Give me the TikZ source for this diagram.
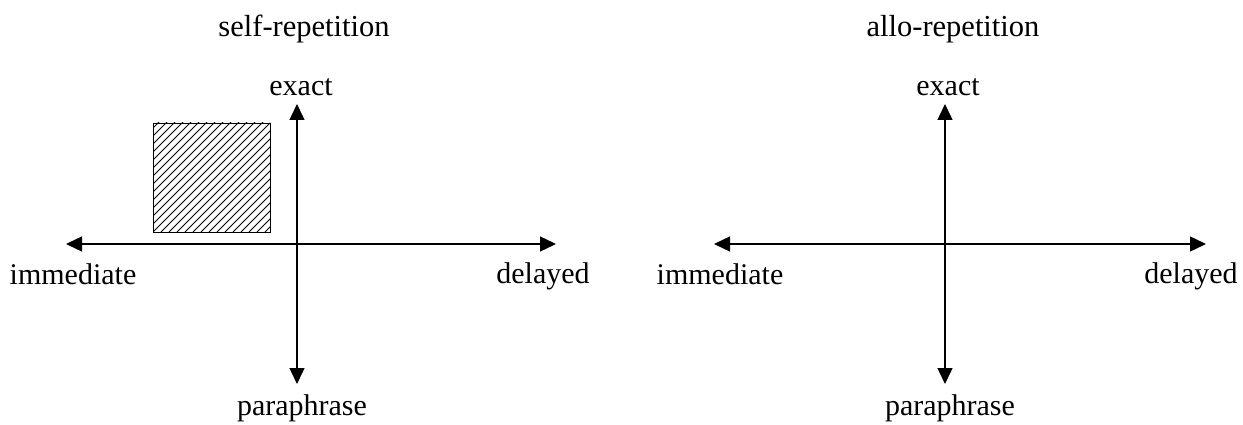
\documentclass[tikz,border=0pt]{standalone}
\usepackage{fontspec}
\setmainfont{Liberation Serif}
\usetikzlibrary{arrows.meta}
\begin{document}
\begin{tikzpicture}[x=1pt,y=-1pt,
  axis/.style={line width=1.4pt,{Triangle[length=16pt,width=15pt]}-{Triangle[length=16pt,width=15pt]}},
  lbl/.style={font=\fontsize{30}{34}\selectfont,inner sep=0pt,anchor=base},
  ttl/.style={font=\fontsize{30.5}{34}\selectfont,inner sep=0pt,anchor=base},
  box/.style={draw,line width=1.4pt}]
\useasboundingbox (0,0) rectangle (1243,425);
% left diagram
\coordinate (L-w) at (66,244);
\coordinate (L-e) at (556,244);
\coordinate (L-n) at (297,104);
\coordinate (L-s) at (297,384);
\node[ttl] (L-title) at (304,37) {self-repetition};
\node[lbl] (L-exact) at (301,96) {exact};
\node[lbl] (L-imm) at (73,284) {immediate};
\node[lbl] (L-del) at (543,283) {delayed};
\node[lbl] (L-para) at (302,415) {paraphrase};
\draw[axis] (L-w) -- (L-e);
\draw[axis] (L-s) -- (L-n);
\coordinate (R1) at (153,123);
\coordinate (R2) at (270,232);
\begin{scope}
\clip (R1) rectangle (R2);
\foreach \k in {0,8,...,240} {
  \draw[line width=0.8pt] (153+\k-120,232) -- (153+\k,112);
}
\end{scope}
\node[box,inner sep=0pt,minimum width=117pt,minimum height=109pt,anchor=north west] (hatch) at (R1) {};
% right diagram
\coordinate (R-w) at (714,244);
\coordinate (R-e) at (1206,244);
\coordinate (R-n) at (945,104);
\coordinate (R-s) at (945,384);
\node[ttl] (R-title) at (953,37) {allo-repetition};
\node[lbl] (R-exact) at (948,96) {exact};
\node[lbl] (R-imm) at (720,284) {immediate};
\node[lbl] (R-del) at (1191,283) {delayed};
\node[lbl] (R-para) at (950,415) {paraphrase};
\draw[axis] (R-w) -- (R-e);
\draw[axis] (R-s) -- (R-n);
\end{tikzpicture}
\end{document}
